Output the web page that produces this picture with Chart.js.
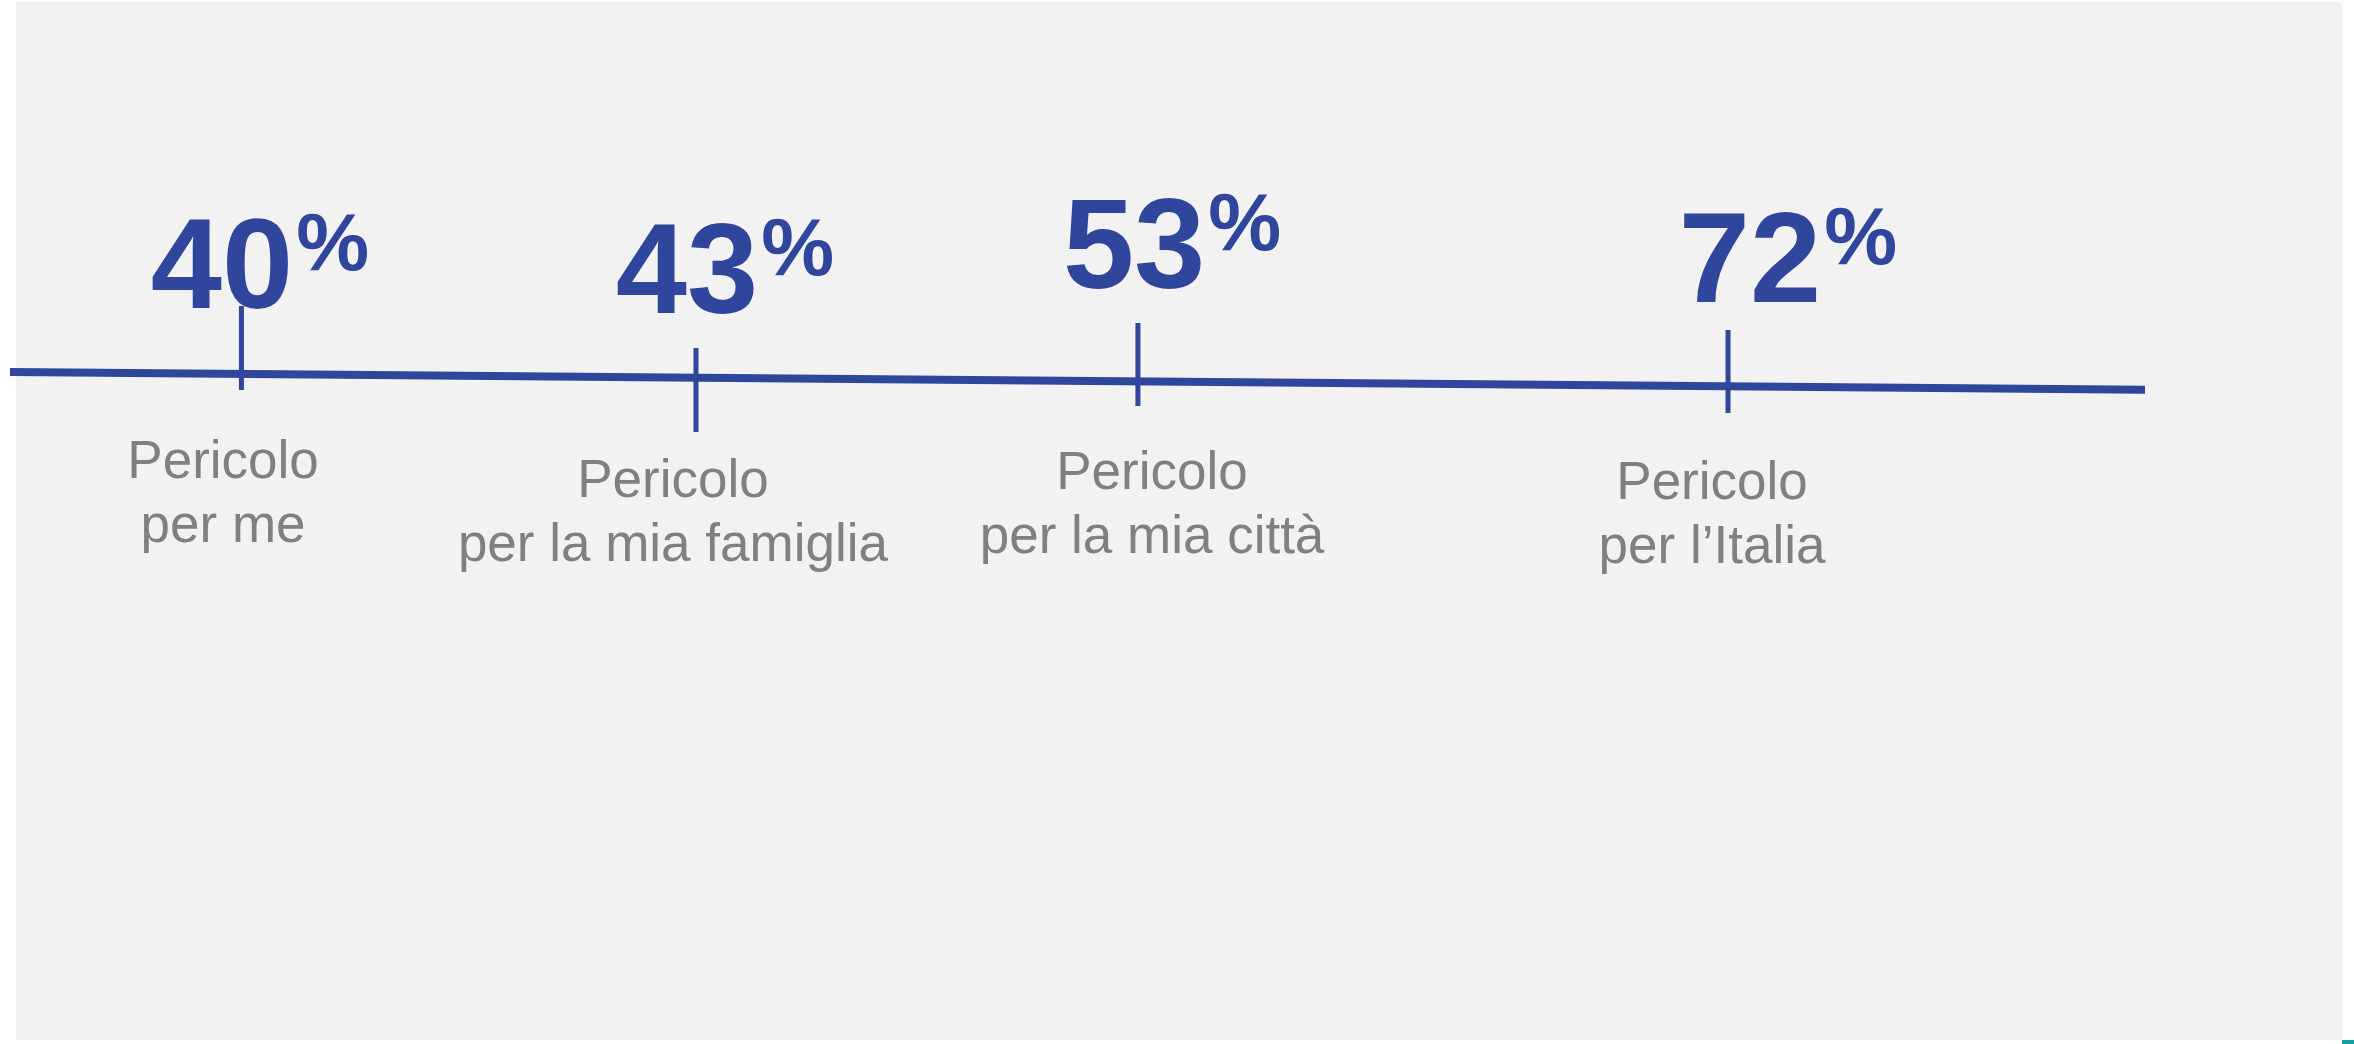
<!DOCTYPE html>
<html lang="it">
<head>
<meta charset="utf-8">
<title>Pericolo percepito</title>
<script src="https://cdn.jsdelivr.net/npm/chart.js@4.4.1/dist/chart.umd.min.js"></script>
<style>
    html, body { margin: 0; padding: 0; background: #ffffff; }
    canvas { display: block; }
</style>
</head>
<body>
<canvas id="chart" width="2354" height="1044"></canvas>
<script>
// Percezione del pericolo - linea con quattro tacche

const categories = [
    ['Pericolo', 'per me'],
    ['Pericolo', 'per la mia famiglia'],
    ['Pericolo', 'per la mia città'],
    ['Pericolo', 'per l\u2019Italia']
];
const values = [40, 43, 53, 72];

// posizione delle tacche lungo la linea (unità dell'asse, 0-100)
const tickX = [10.84, 32.13, 52.83, 80.47];
const tickTop = [70.69, 66.67, 69.06, 68.39];
const tickBottom = [62.64, 58.62, 61.11, 60.44];

// la linea scende leggermente da sinistra a destra
const lineX = [0, 100];
const lineY = [64.37, 62.67];

// ancoraggi dei testi (unità dell'asse)
const valueAnchorX = [9.93, 31.71, 52.65, 81.50];
const valueAnchorY = [70.50, 70.02, 72.41, 71.07];
const labelAnchorX = [9.98, 31.05, 53.49, 79.72];
const labelAnchorY = [54.21, 52.39, 53.16, 52.20];

const BLUE = '#2f469c';
const GREY_TEXT = '#808080';
const FONT = '"Liberation Sans", Arial, sans-serif';

function buildLineData() {
    return lineX.map((x, i) => ({ x, y: lineY[i] }));
}

function buildTickData() {
    const pts = [];
    tickX.forEach((x, i) => {
        pts.push({ x, y: tickTop[i] });
        pts.push({ x, y: tickBottom[i] });
        pts.push({ x, y: null });
    });
    return pts;
}

const backgroundPlugin = {
    id: 'background',
    beforeDraw(chart) {
        const ctx = chart.ctx;
        ctx.save();
        ctx.fillStyle = '#ffffff';
        ctx.fillRect(0, 0, chart.width, chart.height);
        ctx.fillStyle = '#f2f2f2';
        ctx.fillRect(16, 2, 2326, 1038);
        ctx.fillStyle = '#17a0a0';
        ctx.fillRect(2342, 1040, 12, 4);
        ctx.restore();
    }
};

const textPlugin = {
    id: 'texts',
    afterDatasetsDraw(chart) {
        const ctx = chart.ctx;
        const xs = chart.scales.x;
        const ys = chart.scales.y;
        ctx.save();
        ctx.textBaseline = 'alphabetic';

        values.forEach((v, i) => {
            const cx = xs.getPixelForValue(valueAnchorX[i]);
            const by = ys.getPixelForValue(valueAnchorY[i]);
            const num = String(v);
            ctx.font = 'bold 128px ' + FONT;
            const w = ctx.measureText(num).width;
            ctx.fillStyle = BLUE;
            ctx.textAlign = 'left';
            ctx.fillText(num, cx - w / 2, by);
            ctx.font = 'bold 82px ' + FONT;
            ctx.fillText('%', cx + w / 2 + 3, by - 38);
        });

        ctx.font = '53px ' + FONT;
        ctx.fillStyle = GREY_TEXT;
        ctx.textAlign = 'center';
        categories.forEach((lines, i) => {
            const cx = xs.getPixelForValue(labelAnchorX[i]);
            const by = ys.getPixelForValue(labelAnchorY[i]);
            lines.forEach((t, j) => ctx.fillText(t, cx, by + j * 64));
        });
        ctx.restore();
    }
};

function renderChart(ctx) {
    return new Chart(ctx, {
        type: 'scatter',
        data: {
            datasets: [
                {
                    label: 'linea',
                    data: buildLineData(),
                    showLine: true,
                    borderColor: BLUE,
                    borderWidth: 8,
                    pointRadius: 0,
                    tension: 0
                },
                {
                    label: 'tacche',
                    data: buildTickData(),
                    showLine: true,
                    spanGaps: false,
                    borderColor: BLUE,
                    borderWidth: 5,
                    pointRadius: 0,
                    tension: 0
                }
            ]
        },
        options: {
            responsive: false,
            animation: false,
            layout: { padding: { left: 10, right: 209, top: 0, bottom: 0 } },
            plugins: {
                legend: { display: false },
                tooltip: { enabled: false }
            },
            scales: {
                x: { type: 'linear', min: 0, max: 100, display: false },
                y: { type: 'linear', min: 0, max: 100, display: false }
            }
        },
        plugins: [backgroundPlugin, textPlugin]
    });
}

renderChart(document.getElementById('chart').getContext('2d'));
</script>
</body>
</html>
